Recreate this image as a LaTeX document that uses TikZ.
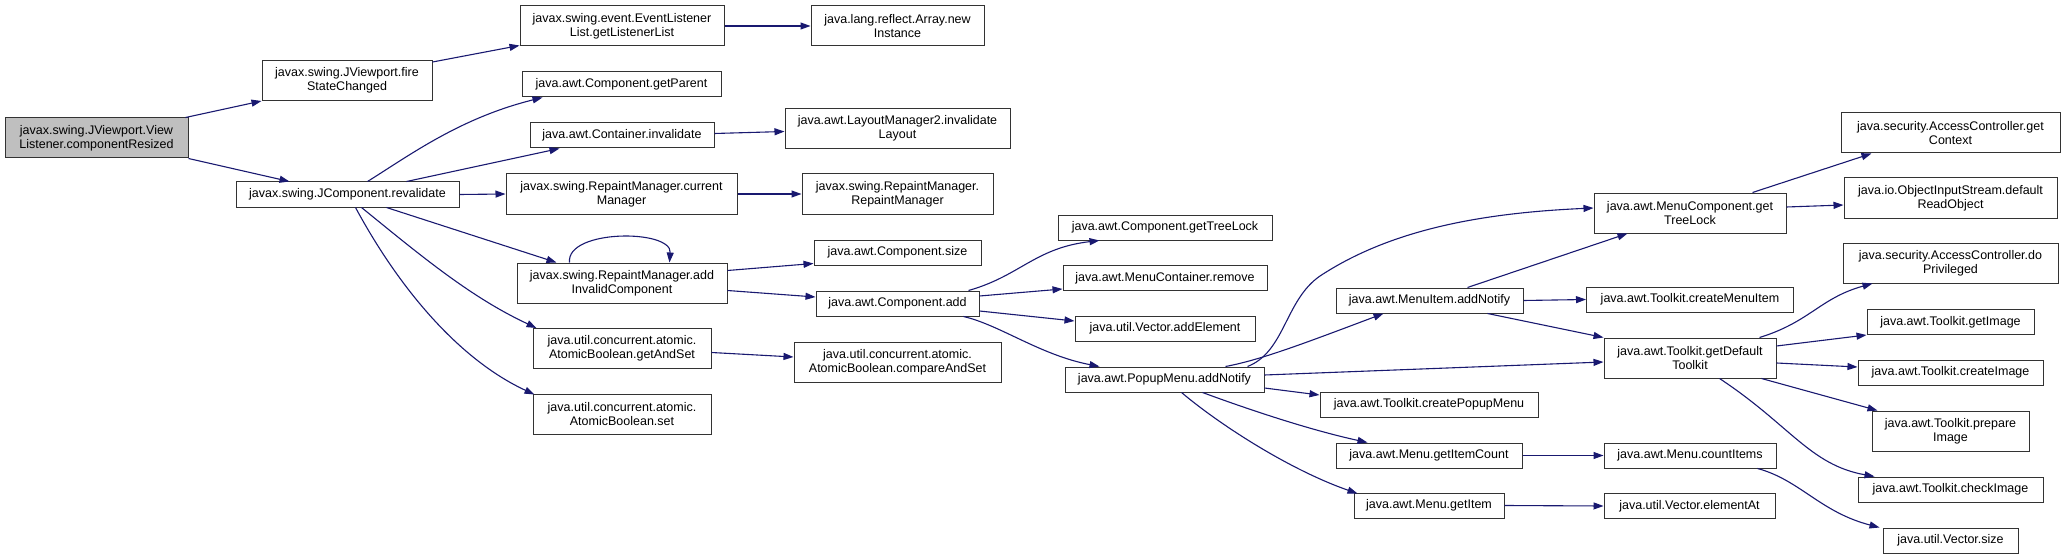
\documentclass[tikz,border=0pt]{standalone}
\usepackage{fontspec}
\setmainfont{Liberation Sans}
\usetikzlibrary{arrows.meta,calc}
\definecolor{navy}{HTML}{191970}
\definecolor{rootgray}{HTML}{BFBFBF}
\tikzset{
  box/.style={draw=black!80, line width=1pt, fill=white, inner sep=0pt, align=center,
    font=\fontsize{12.5}{14}\selectfont},
  edge/.style={draw=navy, line width=1.1pt, -{Triangle[length=10pt,width=7pt]}}
}
\newcommand{\bx}[6]{\node[box, minimum width=#4pt, minimum height=#5pt] (#1) at (#2,#3) {#6};}
\begin{document}
\begin{tikzpicture}[x=1pt,y=-1pt]
\useasboundingbox (0,0) rectangle (2065,559);
% column 1
\node[box, minimum width=183pt, minimum height=40pt, fill=rootgray] (root) at (96.5,138) {javax.swing.JViewport.View\\Listener.componentResized};
% column 2
\bx{fire}{347}{80.5}{170}{40}{javax.swing.JViewport.fire\\StateChanged}
\bx{rev}{347.5}{194.5}{223}{25}{javax.swing.JComponent.revalidate}
% column 3
\bx{evl}{622}{26}{204}{40}{javax.swing.event.EventListener\\List.getListenerList}
\bx{par}{621.5}{84.5}{199}{25}{java.awt.Component.getParent}
\bx{cinv}{622}{135.5}{184}{25}{java.awt.Container.invalidate}
\bx{cur}{621.5}{194}{231}{40}{javax.swing.RepaintManager.current\\Manager}
\bx{aic}{622}{283}{210}{40}{javax.swing.RepaintManager.add\\InvalidComponent}
\bx{gas}{622}{348.5}{178}{40}{java.util.concurrent.atomic.\\AtomicBoolean.getAndSet}
\bx{aset}{622}{414}{178}{40}{java.util.concurrent.atomic.\\AtomicBoolean.set}
% column 4
\bx{arr}{897.5}{26}{173}{40}{java.lang.reflect.Array.new\\Instance}
\bx{lm2}{897.5}{128.5}{225}{40}{java.awt.LayoutManager2.invalidate\\Layout}
\bx{rmrm}{897.5}{194}{191}{40}{javax.swing.RepaintManager.\\RepaintManager}
\bx{csize}{897.5}{252.5}{167}{25}{java.awt.Component.size}
\bx{cadd}{897.5}{303.5}{163}{25}{java.awt.Component.add}
\bx{cas}{897.5}{362}{207}{40}{java.util.concurrent.atomic.\\AtomicBoolean.compareAndSet}
% column 5
\bx{gtl}{1165}{227.5}{214}{25}{java.awt.Component.getTreeLock}
\bx{mcr}{1165}{278}{204}{25}{java.awt.MenuContainer.remove}
\bx{vae}{1165}{328.5}{180}{25}{java.util.Vector.addElement}
\bx{pop}{1164.5}{379.5}{199}{25}{java.awt.PopupMenu.addNotify}
% column 6
\bx{mia}{1429.5}{300.5}{187}{25}{java.awt.MenuItem.addNotify}
\bx{cpm}{1429}{404.5}{218}{25}{java.awt.Toolkit.createPopupMenu}
\bx{gic}{1429}{455.5}{186}{25}{java.awt.Menu.getItemCount}
\bx{gi}{1429}{505.5}{150}{25}{java.awt.Menu.getItem}
% column 7
\bx{mctl}{1690}{213}{192}{40}{java.awt.MenuComponent.get\\TreeLock}
\bx{cmi}{1690}{299.5}{207}{25}{java.awt.Toolkit.createMenuItem}
\bx{gdt}{1690}{358}{172}{40}{java.awt.Toolkit.getDefault\\Toolkit}
\bx{cit}{1690}{455.5}{172}{25}{java.awt.Menu.countItems}
\bx{ea}{1689.5}{506}{171}{25}{java.util.Vector.elementAt}
% column 8
\bx{gctx}{1950.5}{133}{219}{40}{java.security.AccessController.get\\Context}
\bx{dro}{1950.5}{198}{213}{40}{java.io.ObjectInputStream.default\\ReadObject}
\bx{dop}{1950.5}{263}{215}{40}{java.security.AccessController.do\\Privileged}
\bx{gim}{1950.5}{322}{167}{25}{java.awt.Toolkit.getImage}
\bx{cim}{1950.5}{372.5}{185}{25}{java.awt.Toolkit.createImage}
\bx{pim}{1950.5}{431}{157}{40}{java.awt.Toolkit.prepare\\Image}
\bx{chk}{1950.5}{489.5}{185}{25}{java.awt.Toolkit.checkImage}
\bx{vsz}{1950.5}{540.5}{135}{25}{java.util.Vector.size}

% edges
\draw[edge] ($(root.north east)+(-3,0)$) -- (fire.south west);
\draw[edge] (root.south east) -- ($(rev.north west)+(54,0)$);
\draw[edge] ($(fire.north east)+(0,2)$) -- ($(evl.south west)+(0,-1)$);
\draw[edge] (evl.east) -- (arr.west);
\draw[edge] ($(rev.north west)+(132,0)$) .. controls (410,155) and (460,118) .. ($(par.south west)+(21,0)$);
\draw[edge] ($(rev.north west)+(171,0)$) -- ($(cinv.south west)+(30,0)$);
\draw[edge] (rev.east) -- (cur.west);
\draw[edge] ($(rev.south west)+(151,0)$) -- ($(aic.north west)+(40,0)$);
\draw[edge] ($(rev.south west)+(126,0)$) .. controls (420,255) and (470,297) .. ($(gas.north west)+(4,0)$);
\draw[edge] ($(rev.south west)+(120,0)$) .. controls (400,290) and (460,360) .. ($(aset.north west)+(2,1)$);
\draw[edge] ($(cinv.east)+(0,-2)$) -- ($(lm2.west)+(0,3)$);
\draw[edge] (cur.east) -- (rmrm.west);
\draw[edge] ($(aic.north west)+(53,0)$) .. controls (566,229) and (672,229) .. ($(aic.north west)+(153,0)$);
\draw[edge] ($(aic.north east)+(0,8)$) -- ($(csize.south west)+(0,-2)$);
\draw[edge] ($(aic.north east)+(0,28)$) -- ($(cadd.west)+(0,-6.5)$);
\draw[edge] ($(gas.east)+(0,4)$) -- ($(cas.west)+(0,-5)$);
% Component.add
\draw[edge] ($(cadd.north east)+(-11,0)$) .. controls (1020,276) and (1035,248) .. ($(gtl.south west)+(42,0)$);
\draw[edge] ($(cadd.east)+(0,-7.5)$) -- ($(mcr.west)+(0,11)$);
\draw[edge] ($(cadd.east)+(0,7.5)$) -- ($(vae.west)+(0,-7.5)$);
\draw[edge] ($(cadd.south east)+(-16,0)$) .. controls (1000,325) and (1040,355) .. ($(pop.north west)+(35,0)$);
% PopupMenu.addNotify
\draw[edge] ($(pop.north west)+(161,0)$) .. controls (1260,360) and (1300,345) .. ($(mia.south west)+(48,0)$);
\draw[edge] ($(pop.north west)+(183,0)$) .. controls (1285,352) and (1285,300) .. (1320,276)
   .. controls (1390,230) and (1480,213) .. ($(mctl.west)+(0,-5)$);
\draw[edge] ($(pop.east)+(0,-4.5)$) -- ($(gdt.west)+(0,4)$);
\draw[edge] ($(pop.east)+(0,8.5)$) -- ($(cpm.west)+(0,-9.5)$);
\draw[edge] ($(pop.south west)+(138,0)$) .. controls (1250,410) and (1310,430) .. ($(gic.north west)+(32,0)$);
\draw[edge] ($(pop.south west)+(117,0)$) .. controls (1220,425) and (1290,470) .. ($(gi.north west)+(4,1)$);
% MenuItem.addNotify
\draw[edge] ($(mia.north west)+(132,0)$) -- ($(mctl.south west)+(34,0)$);
\draw[edge] (mia.east) -- (cmi.west);
\draw[edge] ($(mia.south west)+(152,0)$) -- (gdt.north west);
\draw[edge] (gic.east) -- (cit.west);
\draw[edge] (gi.east) -- (ea.west);
% MenuComponent.getTreeLock
\draw[edge] ($(mctl.north west)+(159,0)$) -- ($(gctx.south west)+(31,0)$);
\draw[edge] ($(mctl.east)+(0,-6)$) -- ($(dro.west)+(0,7)$);
% getDefaultToolkit
\draw[edge] ($(gdt.north west)+(156,0)$) .. controls (1810,322) and (1820,298) .. ($(dop.south west)+(30,0)$);
\draw[edge] ($(gdt.east)+(0,-12)$) -- (gim.south west);
\draw[edge] ($(gdt.east)+(0,5)$) -- ($(cim.west)+(0,-5.5)$);
\draw[edge] ($(gdt.south west)+(158,0)$) -- ($(pim.north west)+(6,0)$);
\draw[edge] ($(gdt.south west)+(116,0)$) .. controls (1790,425) and (1810,465) .. ($(chk.north west)+(17,0)$);
\draw[edge] ($(cit.south west)+(154,0)$) .. controls (1800,480) and (1820,512) .. ($(vsz.north west)+(-3,0)$);
\end{tikzpicture}
\end{document}
